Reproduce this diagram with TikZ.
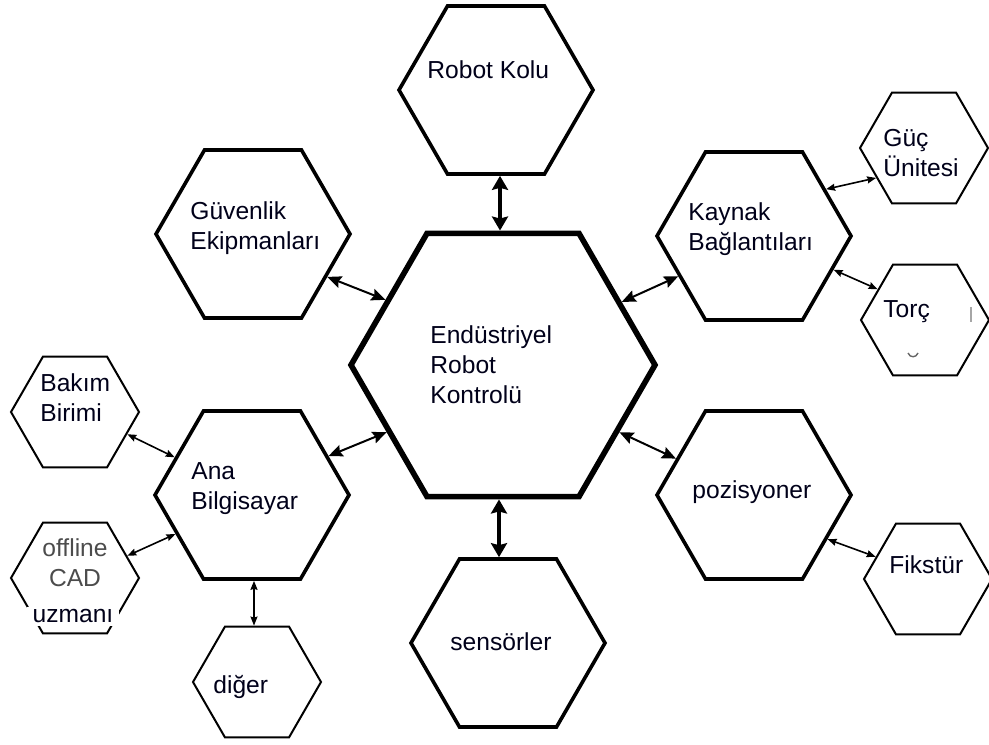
\documentclass[tikz,border=0pt]{standalone}
\usepackage{fontspec}
\setmainfont{Liberation Sans}
\usetikzlibrary{shapes.geometric,arrows.meta}

\begin{document}
\begin{tikzpicture}[x=0.5pt,y=-0.5pt,
    hex/.style={regular polygon,regular polygon sides=6,draw,inner sep=0pt},
    hub node/.style={hex,minimum size=152pt,line width=2.8pt},
    main node/.style={hex,minimum size=97pt,line width=1.8pt},
    small node/.style={hex,minimum size=64pt,line width=1pt},
    plain text/.style={inner sep=0pt,text=black!90!blue,
        font=\fontsize{12.3pt}{15pt}\selectfont},
    label text/.style={plain text,anchor=west,align=left},
    wide link/.style={line width=2pt,{Stealth[length=7pt,width=8pt,inset=1pt]}-{Stealth[length=7pt,width=8pt,inset=1pt]}},
    hub link/.style={line width=1pt,{Stealth[length=7pt,width=6pt,inset=1pt]}-{Stealth[length=7pt,width=6pt,inset=1pt]}},
    thin link/.style={line width=0.8pt,{Stealth[length=4.5pt,width=3.5pt,inset=0.5pt]}-{Stealth[length=4.5pt,width=3.5pt,inset=0.5pt]}}]
    \useasboundingbox (0,0) rectangle (989,744);

    % hexagons
    \node[hub node] (ctrl) at (503,365) {};
    \node[main node] (rk) at (496,90) {};
    \node[main node] (gv) at (253,234) {};
    \node[main node] (kb) at (754,236) {};
    \node[main node] (ana) at (252,495) {};
    \node[main node] (poz) at (754,495) {};
    \node[main node] (sen) at (508,643) {};
    \node[small node] (guc) at (924,148) {};
    \node[small node] (torc) at (925,320) {};
    \node[small node] (fik) at (928,579) {};
    \node[small node] (bakim) at (75,412) {};
    \node[small node] (off) at (75,578) {};
    \node[small node] (diger) at (257,682) {};

    % texts
    \node[label text] (ctrl-t) at (430,365) {Endüstriyel\\Robot\\Kontrolü};
    \node[label text] (rk-t) at (427,70) {Robot Kolu};
    \node[label text] (gv-t) at (190,228) {Güvenlik\\Ekipmanları};
    \node[label text] (kb-t) at (688,229) {Kaynak\\Bağlantıları};
    \node[label text] (ana-t) at (191,489) {Ana\\Bilgisayar};
    \node[label text] (poz-t) at (692,492) {pozisyoner};
    \node[label text] (sen-t) at (450,642) {sensörler};
    \node[label text] (guc-t) at (883,153) {Güç\\Ünitesi};
    \node[label text] (torc-t) at (883,312) {Torç};
    \node[label text] (bakim-t) at (40,398) {Bakım\\Birimi};
    \node[plain text,align=center,text=black!70] (off-t) at (75,563) {offline\\CAD};
    \node[plain text,fill=white,text height=6.5pt,text depth=0pt,inner xsep=3pt,inner ysep=1.5pt]
        (off-u) at (73,616) {uzmanı};
    \node[label text] (diger-t) at (213,687) {diğer};
    \node[label text] (fik-t) at (889,565) {Fikstür};

    % stray marks inside Torç
    \draw[black!35,line width=0.6pt] (971,307) -- (971,322);
    \draw[black!60,line width=0.7pt] (908,353) .. controls (910,358) and (916,358) .. (918,353);

    \path
        ([xshift=-1.5pt]ctrl.north) edge[wide link] ([xshift=-1.5pt]ctrl.north |- rk.south)
        ([xshift=-2pt]ctrl.south) edge[wide link] ([xshift=-2pt]ctrl.south |- sen.north)
        (gv.-30) edge[hub link] (ctrl.151)
        (ana.27) edge[hub link] (ctrl.210)
        (kb.208) edge[hub link] (ctrl.28)
        (poz.155) edge[hub link] (ctrl.-30)
        (kb.33) edge[thin link] (guc.212)
        (kb.-23) edge[thin link] (torc.147)
        (poz.-31) edge[thin link] (fik.157)
        (bakim.-23) edge[thin link] (ana.154)
        (off.23) edge[thin link] (ana.207)
        ([xshift=1pt]ana.south) edge[thin link] ([xshift=1pt]ana.south |- diger.north)
        ;
\end{tikzpicture}
\end{document}
